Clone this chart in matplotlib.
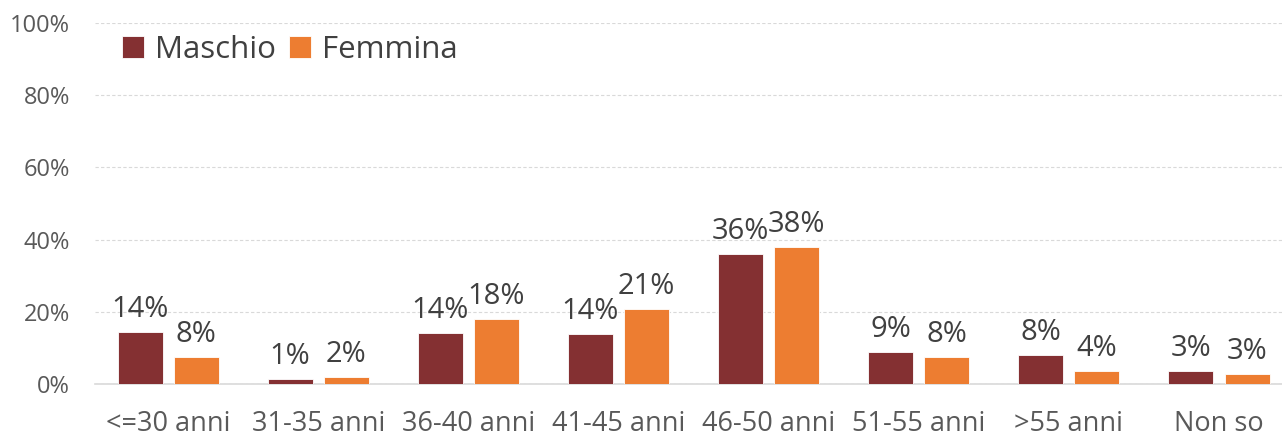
import matplotlib
matplotlib.use("Agg")
import matplotlib.pyplot as plt
import numpy as np

categories = ["<=30 anni", "31-35 anni", "36-40 anni", "41-45 anni",
              "46-50 anni", "51-55 anni", ">55 anni", "Non so"]
maschio = [14.4, 1.4, 14.1, 13.9, 36.0, 8.9, 8.0, 3.6]
femmina = [7.5, 1.9, 18.0, 20.8, 37.9, 7.5, 3.6, 2.8]
maschio_labels = ["14%", "1%", "14%", "14%", "36%", "9%", "8%", "3%"]
femmina_labels = ["8%", "2%", "18%", "21%", "38%", "8%", "4%", "3%"]
yticks = [0, 20, 40, 60, 80, 100]

plt.rcParams['font.family'] = ['Open Sans', 'DejaVu Sans']

fig = plt.figure(figsize=(12.82, 4.38), dpi=100)
ax = fig.add_axes([95/1282, 1-384/438, 1-95/1282, (384-23)/438])

x = np.arange(len(categories))
off = 0.187
w = 0.30
c_m = "#843032"
c_f = "#ED7D31"
ax.bar(x - off, maschio, w, color=c_m, edgecolor="white", linewidth=0.6, label="Maschio", zorder=3)
ax.bar(x + off, femmina, w, color=c_f, edgecolor="white", linewidth=0.6, label="Femmina", zorder=3)

for xi, v, t in zip(x - off, maschio, maschio_labels):
    ax.text(xi, v + 2.3, t, ha="center", va="bottom", fontsize=21, color="#404040")
for xi, v, t in zip(x + off, femmina, femmina_labels):
    ax.text(xi, v + 2.3, t, ha="center", va="bottom", fontsize=21, color="#404040")

ax.set_xlim(-0.487, 7.42)
ax.set_ylim(0, 100)
ax.set_yticks(yticks)
ax.set_yticklabels([f"{v}%" for v in yticks], fontsize=17, color="#595959")
ax.set_xticks(x)
ax.set_xticklabels(categories, fontsize=19.5, color="#595959")
ax.tick_params(axis="both", length=0)
ax.tick_params(axis="x", pad=19)
ax.tick_params(axis="y", pad=18)
ax.grid(axis="y", color="#D9D9D9", linestyle=(0, (3, 2)), linewidth=0.8, zorder=0)
for s in ["top", "right", "left"]:
    ax.spines[s].set_visible(False)
ax.spines["bottom"].set_color("#D9D9D9")
ax.spines["bottom"].set_linewidth(1.2)

leg = ax.legend(loc="upper left", bbox_to_anchor=(0.01, 1.01), ncol=2, frameon=False,
                fontsize=22.5, handlelength=0.7, handleheight=0.7, handletextpad=0.35,
                columnspacing=0.4, borderaxespad=0.1)
for t in leg.get_texts():
    t.set_color("#404040")

fig.savefig("out.png", dpi=100)
